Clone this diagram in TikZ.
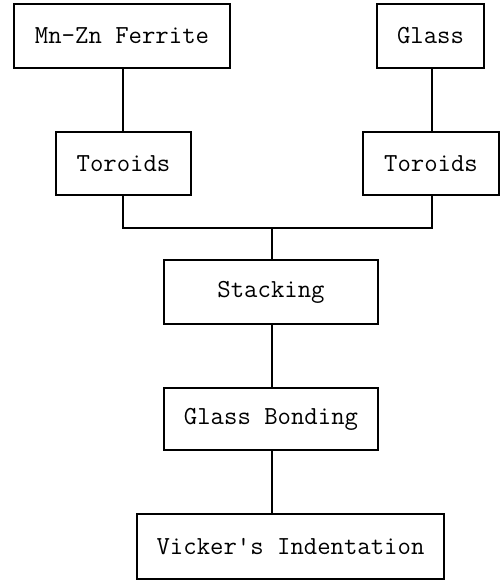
\documentclass[tikz,border=0pt]{standalone}
\usepackage{fontspec}
\begin{document}
\begin{tikzpicture}[x=1pt,y=-1pt,
  procbox/.style={draw=black,line width=1.6pt,rectangle,inner sep=0pt,
    font=\ttfamily\fontsize{26}{28}\selectfont,text=black},
  link/.style={draw=black,line width=1.6pt}]
\useasboundingbox (0,0) rectangle (503,582);
\node[procbox,minimum width=216pt,minimum height=64pt] (mnzn) at (122,36) {Mn-Zn Ferrite};
\node[procbox,minimum width=107pt,minimum height=64pt] (glass) at (430.5,36) {Glass};
\node[procbox,minimum width=135pt,minimum height=63pt] (torL) at (123.5,163.5) {Toroids};
\node[procbox,minimum width=136pt,minimum height=63pt] (torR) at (431,163.5) {Toroids};
\node[procbox,minimum width=214pt,minimum height=64pt] (stack) at (271,292) {Stacking};
\node[procbox,minimum width=214pt,minimum height=62pt] (bond) at (271,419) {Glass Bonding};
\node[procbox,minimum width=307pt,minimum height=65pt] (vick) at (290.5,546.5) {Vicker's Indentation};
\coordinate (j) at (272,228);
\coordinate (a) at (123,0);
\coordinate (b) at (432,0);
\draw[link] (a |- mnzn.south) -- (a |- torL.north);
\draw[link] (b |- glass.south) -- (b |- torR.north);
\draw[link] (a |- torL.south) |- (j) -| (b |- torR.south);
\draw[link] (j) -- (j |- stack.north);
\draw[link] (j |- stack.south) -- (j |- bond.north);
\draw[link] (j |- bond.south) -- (j |- vick.north);
\end{tikzpicture}
\end{document}
